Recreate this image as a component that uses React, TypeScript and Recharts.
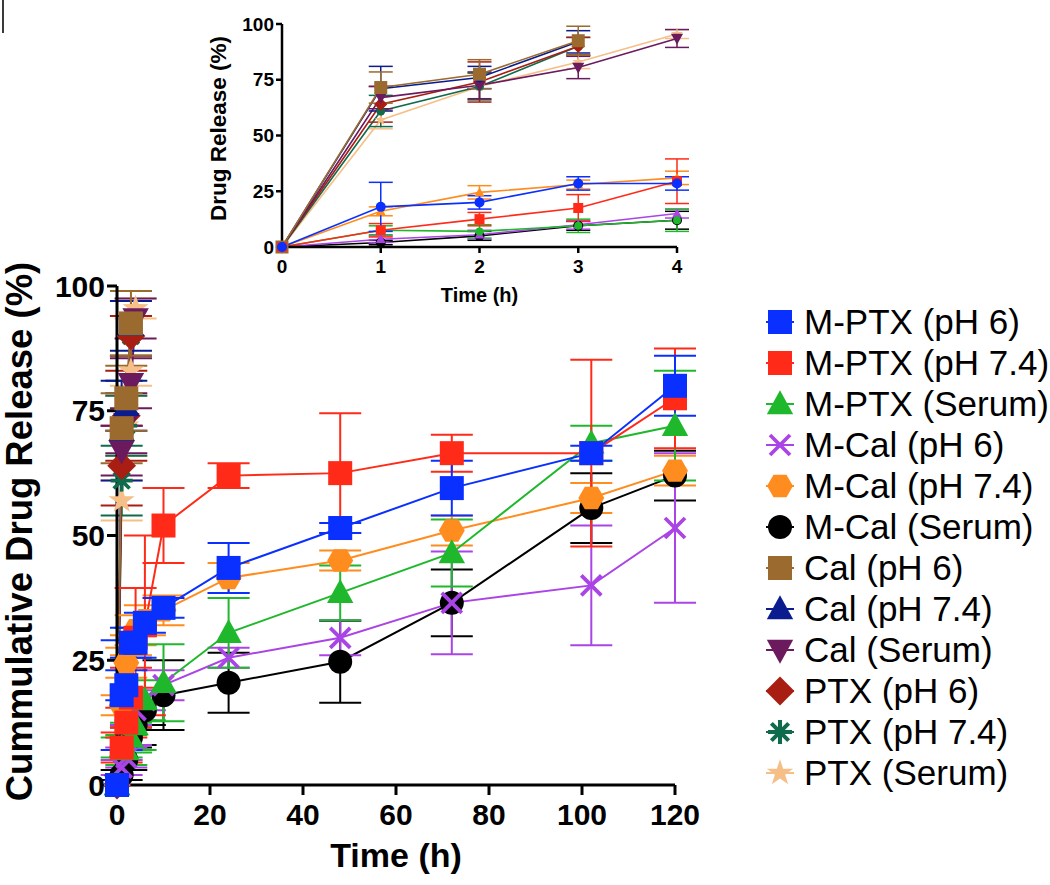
import React from 'react';
import { LineChart, Line, XAxis, YAxis, ErrorBar, Legend, Label } from 'recharts';

const FONT = '"Liberation Sans", Arial, Helvetica, sans-serif';

// sampling times (h)
const times = [0, 1, 2, 3, 4, 6, 10, 24, 48, 72, 102, 120];
const mainTicksX = [0, 20, 40, 60, 80, 100, 120];
const insetTicksX = [0, 1, 2, 3, 4];
const ticksY = [0, 25, 50, 75, 100];

const names = [
  'M-PTX (pH 6)',
  'M-PTX (pH 7.4)',
  'M-PTX (Serum)',
  'M-Cal (pH 6)',
  'M-Cal (pH 7.4)',
  'M-Cal (Serum)',
  'Cal (pH 6)',
  'Cal (pH 7.4)',
  'Cal (Serum)',
  'PTX (pH 6)',
  'PTX (pH 7.4)',
  'PTX (Serum)',
];
const colors = [
  '#0a30ff', '#ff2a18', '#1fb82c', '#aa44e6', '#ff8c1e', '#000000',
  '#9a6a2e', '#0b1d8e', '#6b1a5e', '#a91e12', '#0f6b4c', '#f6bf88',
];
const shapes = [
  'square', 'square', 'triangle', 'cross', 'hexagon', 'circle',
  'square', 'triangle', 'triangleDown', 'diamond', 'asterisk', 'star',
];
const insetShapes = [
  'circle', 'square', 'circle', 'triangle', 'triangle', 'circle',
  'square', 'circle', 'triangleDown', 'diamond', 'circle', 'star',
];

// release values (%) and SD
const mptxPh6 = [0, 18, 20, 28.5, 28.5, 32.5, 35.5, 43.5, 51.5, 59.5, 66.5, 80];
const mptxPh6Err = [0, 11, 3, 3, 3, 2, 2, 5, 1, 5.5, 1.5, 6];
const mptxPh74 = [0, 7.5, 12.5, 17.5, 29.5, 32, 52, 62, 62.5, 66.5, 66.5, 77.5];
const mptxPh74Err = [0, 3, 3, 6, 10, 18, 7.5, 2.5, 12, 3.7, 18.7, 10];
const mptxSerum = [0, 7.5, 7, 9.5, 12, 17, 20.5, 30.5, 38.5, 46.5, 68.5, 72];
const mptxSerumErr = [0, 2, 3, 3, 5, 4, 7.7, 7, 5.5, 6.7, 3.5, 11];
const mcalPh6 = [0, 3.5, 5.5, 10, 15, 17, 20, 25.5, 29.5, 36.5, 40, 51.5];
const mcalPh6Err = [0, 1.5, 2, 2, 2, 2, 3, 2, 3.5, 10.3, 12, 15];
const mcalPh74 = [0, 16, 24.5, 28, 31, 33, 35, 41.5, 45, 51, 57.5, 63];
const mcalPh74Err = [0, 2, 3, 2, 3, 3, 3, 3, 2, 3, 3, 3];
const mcalSerum = [0, 2, 5, 9.5, 12, 15, 18, 20.5, 24.7, 36.5, 55.5, 62];
const mcalSerumErr = [0, 1, 2, 2, 4, 3, 7, 6, 8.2, 6.7, 7, 5];
const calPh6 = [0, 71.5, 77.5, 92.5];
const calPh6Err = [0, 7, 6.5, 6.5];
const calPh74 = [0, 71, 76, 92];
const calPh74Err = [0, 10, 5, 5];
const calSerum = [0, 67, 72.5, 80.5, 93.5];
const calSerumErr = [0, 5, 6, 5, 4];
const ptxPh6 = [0, 64, 74, 90];
const ptxPh6Err = [0, 8, 9, 4];
const ptxPh74 = [0, 61, 72, 90];
const ptxPh74Err = [0, 7, 6, 4];
const ptxSerum = [0, 57, 72, 83, 95.5];
const ptxSerumErr = [0, 4, 6, 3, 2];

const values = [mptxPh6, mptxPh74, mptxSerum, mcalPh6, mcalPh74, mcalSerum, calPh6, calPh74, calSerum, ptxPh6, ptxPh74, ptxSerum];
const errors = [mptxPh6Err, mptxPh74Err, mptxSerumErr, mcalPh6Err, mcalPh74Err, mcalSerumErr, calPh6Err, calPh74Err, calSerumErr, ptxPh6Err, ptxPh74Err, ptxSerumErr];

const rows = times.map((t, i) => {
  const row: Record<string, number | undefined> = { t };
  values.forEach((v, k) => {
    row[`v${k}`] = v[i];
    row[`e${k}`] = errors[k][i];
  });
  return row;
});
const insetRows = rows.filter((r) => (r.t as number) <= 4);

// first series drawn on top
const drawOrder = names.map((_, i) => names.length - 1 - i);

function Marker({ shape, cx, cy, s, color }: { shape: string; cx: number; cy: number; s: number; color: string }) {
  const h = s / 2;
  switch (shape) {
    case 'square':
      return <rect x={cx - h} y={cy - h} width={s} height={s} fill={color} />;
    case 'circle':
      return <circle cx={cx} cy={cy} r={h} fill={color} />;
    case 'triangle':
      return <polygon points={`${cx},${cy - h * 1.15} ${cx - h * 1.1},${cy + h * 0.85} ${cx + h * 1.1},${cy + h * 0.85}`} fill={color} />;
    case 'triangleDown':
      return <polygon points={`${cx},${cy + h * 1.15} ${cx - h * 1.1},${cy - h * 0.85} ${cx + h * 1.1},${cy - h * 0.85}`} fill={color} />;
    case 'diamond':
      return <polygon points={`${cx},${cy - h * 1.2} ${cx + h * 1.2},${cy} ${cx},${cy + h * 1.2} ${cx - h * 1.2},${cy}`} fill={color} />;
    case 'hexagon': {
      const pts = [0, 60, 120, 180, 240, 300]
        .map((a) => `${cx + h * 1.08 * Math.cos((a * Math.PI) / 180)},${cy + h * 1.08 * Math.sin((a * Math.PI) / 180)}`)
        .join(' ');
      return <polygon points={pts} fill={color} />;
    }
    case 'cross':
      return (
        <g stroke={color} strokeWidth={Math.max(1.5, s * 0.19)}>
          <line x1={cx - h} y1={cy - h} x2={cx + h} y2={cy + h} />
          <line x1={cx - h} y1={cy + h} x2={cx + h} y2={cy - h} />
        </g>
      );
    case 'asterisk':
      return (
        <g stroke={color} strokeWidth={Math.max(1.5, s * 0.17)}>
          <line x1={cx - h} y1={cy} x2={cx + h} y2={cy} />
          <line x1={cx} y1={cy - h} x2={cx} y2={cy + h} />
          <line x1={cx - h * 0.72} y1={cy - h * 0.72} x2={cx + h * 0.72} y2={cy + h * 0.72} />
          <line x1={cx - h * 0.72} y1={cy + h * 0.72} x2={cx + h * 0.72} y2={cy - h * 0.72} />
        </g>
      );
    case 'star': {
      const pts: string[] = [];
      for (let i = 0; i < 10; i++) {
        const r = i % 2 === 0 ? h * 1.15 : h * 0.45;
        const a = -Math.PI / 2 + (i * Math.PI) / 5;
        pts.push(`${cx + r * Math.cos(a)},${cy + r * Math.sin(a)}`);
      }
      return <polygon points={pts.join(' ')} fill={color} />;
    }
    default:
      return null;
  }
}

const makeDot = (k: number, shape: string, s: number) => (p: any) => {
  if (p.cx == null || p.cy == null || p.value == null) return <g key={`d${k}-${p.index}`} />;
  return (
    <g key={`d${k}-${p.index}`}>
      <Marker shape={shape} cx={p.cx} cy={p.cy} s={s} color={colors[k]} />
    </g>
  );
};

const mainSizes = [24, 24, 24, 20, 24, 24, 24, 24, 24, 24, 22, 24];
const insetSizes = [10, 10, 8, 9, 9, 10, 13, 10, 11, 11, 9, 11];

function LegendBox() {
  return (
    <div style={{ fontFamily: FONT, fontSize: 35, color: '#000' }}>
      {names.map((n, i) => (
        <div key={n} style={{ display: 'flex', alignItems: 'center', height: 41, lineHeight: '41px', whiteSpace: 'nowrap' }}>
          <svg width={30} height={30} style={{ marginRight: 9, flex: 'none' }}>
            <line x1={1} y1={15} x2={29} y2={15} stroke={colors[i]} strokeWidth={2} />
            <Marker shape={shapes[i]} cx={15} cy={15} s={i === 3 ? 20 : 24} color={colors[i]} />
          </svg>
          <span>{n}</span>
        </div>
      ))}
    </div>
  );
}

const tickMain = { fill: '#000', fontSize: 30, fontWeight: 700, fontFamily: FONT };
const tickInset = { fill: '#000', fontSize: 19, fontWeight: 700, fontFamily: FONT };

export default function App() {
  return (
    <div style={{ position: 'absolute', left: 0, top: 0, width: 1050, height: 885, background: '#fff', overflow: 'hidden' }}>
      <div style={{ position: 'absolute', left: 2, top: 0, width: 2, height: 33, background: '#3a3a3a' }} />
      <div style={{ position: 'absolute', left: 0, top: 0 }}>
        <LineChart width={1050} height={885} data={rows} margin={{ top: 286, right: 375, bottom: 30, left: 47 }}>
          <XAxis
            dataKey="t"
            type="number"
            domain={[0, 120]}
            ticks={mainTicksX}
            height={70}
            tickSize={10}
            tickMargin={9}
            tick={tickMain}
            axisLine={{ stroke: '#000', strokeWidth: 3 }}
            tickLine={{ stroke: '#000', strokeWidth: 3 }}
          >
            <Label
              content={({ viewBox }: any) => (
                <text x={viewBox.x + viewBox.width / 2} y={viewBox.y + 82} textAnchor="middle" fontFamily={FONT} fontWeight={700} fontSize={34} fill="#000">
                  Time (h)
                </text>
              )}
            />
          </XAxis>
          <YAxis
            type="number"
            domain={[0, 100]}
            ticks={ticksY}
            width={70}
            tickSize={10}
            tickMargin={2}
            tick={tickMain}
            axisLine={{ stroke: '#000', strokeWidth: 3 }}
            tickLine={{ stroke: '#000', strokeWidth: 3 }}
          >
            <Label
              content={({ viewBox }: any) => {
                const x = viewBox.x - 15;
                const y = viewBox.y + viewBox.height / 2 - 4;
                return (
                  <text x={0} y={0} transform={`translate(${x},${y}) rotate(-90)`} textAnchor="middle" fontFamily={FONT} fontWeight={700} fontSize={36.5} fill="#000">
                    Cummulative Drug Release (%)
                  </text>
                );
              }}
            />
          </YAxis>
          {drawOrder.map((k) => (
            <Line
              key={names[k]}
              dataKey={`v${k}`}
              type="linear"
              stroke={colors[k]}
              strokeWidth={2}
              dot={makeDot(k, shapes[k], mainSizes[k])}
              activeDot={false}
              isAnimationActive={false}
            >
              <ErrorBar dataKey={`e${k}`} width={21} stroke={colors[k]} strokeWidth={2} direction="y" isAnimationActive={false} />
            </Line>
          ))}
          <Legend
            layout="vertical"
            align="center"
            verticalAlign="middle"
            wrapperStyle={{ left: 765, top: 301, width: 285, height: 500 }}
            content={() => <LegendBox />}
          />
        </LineChart>
      </div>
      <div style={{ position: 'absolute', left: 0, top: 0 }}>
        <LineChart width={700} height={320} data={insetRows} margin={{ top: 24, right: 23, bottom: 13, left: 222 }}>
          <XAxis
            dataKey="t"
            type="number"
            domain={[0, 4]}
            ticks={insetTicksX}
            height={60}
            tickSize={6}
            tickMargin={7}
            tick={tickInset}
            axisLine={{ stroke: '#000', strokeWidth: 2.5 }}
            tickLine={{ stroke: '#000', strokeWidth: 2.5 }}
          >
            <Label
              content={({ viewBox }: any) => (
                <text x={viewBox.x + viewBox.width / 2} y={viewBox.y + 55} textAnchor="middle" fontFamily={FONT} fontWeight={700} fontSize={20} fill="#000">
                  Time (h)
                </text>
              )}
            />
          </XAxis>
          <YAxis
            type="number"
            domain={[0, 100]}
            ticks={ticksY}
            width={60}
            tickSize={6}
            tickMargin={2}
            tick={tickInset}
            axisLine={{ stroke: '#000', strokeWidth: 2.5 }}
            tickLine={{ stroke: '#000', strokeWidth: 2.5 }}
          >
            <Label
              content={({ viewBox }: any) => {
                const x = viewBox.x + 4;
                const y = viewBox.y + viewBox.height / 2 - 7;
                return (
                  <text x={0} y={0} transform={`translate(${x},${y}) rotate(-90)`} textAnchor="middle" fontFamily={FONT} fontWeight={700} fontSize={22.5} fill="#000">
                    Drug Release (%)
                  </text>
                );
              }}
            />
          </YAxis>
          {drawOrder.map((k) => (
            <Line
              key={names[k]}
              dataKey={`v${k}`}
              type="linear"
              stroke={colors[k]}
              strokeWidth={1.6}
              dot={makeDot(k, insetShapes[k], insetSizes[k])}
              activeDot={false}
              isAnimationActive={false}
            >
              <ErrorBar dataKey={`e${k}`} width={12} stroke={colors[k]} strokeWidth={1.5} direction="y" isAnimationActive={false} />
            </Line>
          ))}
        </LineChart>
      </div>
    </div>
  );
}
